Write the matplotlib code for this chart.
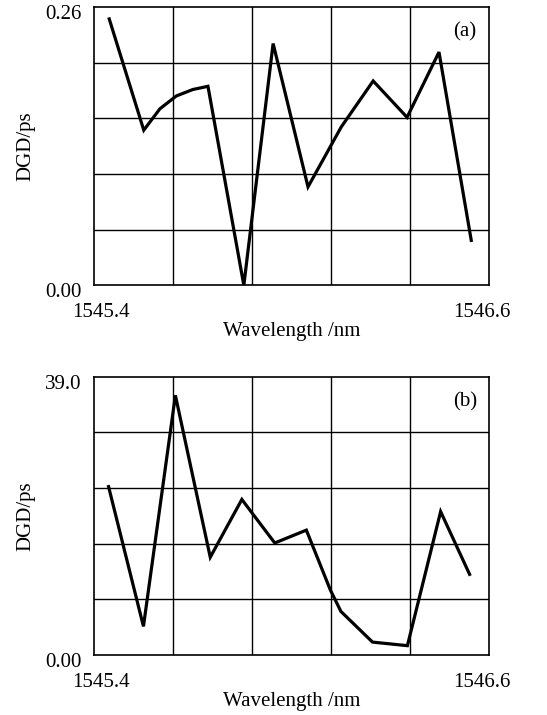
import numpy as np
import matplotlib.pyplot as plt
import matplotlib.transforms as mtransforms

plt.rcParams["font.family"] = ["Liberation Serif", "DejaVu Serif"]

# panel (a): DGD in ps vs wavelength
wl_a = [1545.446, 1545.551, 1545.600, 1545.650, 1545.700, 1545.746, 1545.855,
        1545.944, 1546.050, 1546.151, 1546.248, 1546.351, 1546.448, 1546.546]
dgd_a = [0.249, 0.145, 0.165, 0.177, 0.183, 0.186, 0.000,
         0.226, 0.092, 0.148, 0.191, 0.157, 0.218, 0.042]

# panel (b)
wl_b = [1545.444, 1545.550, 1545.647, 1545.753, 1545.849, 1545.949, 1546.045,
        1546.118, 1546.150, 1546.246, 1546.352, 1546.453, 1546.541]
dgd_b = [23.6, 4.0, 36.4, 13.7, 21.8, 15.7, 17.5,
         9.1, 6.1, 1.8, 1.3, 20.1, 11.3]

x_range = (1545.4, 1546.6)
x_labels = ["1545.4", "1546.6"]


def draw_panel(ax, x, y, ymax, ylabels, tag):
    ax.plot(x, y, color="black", linewidth=2.3, solid_joinstyle="miter", zorder=3)
    ax.set_xlim(*x_range)
    ax.set_ylim(0, ymax)

    # 5 x 5 grid
    for gx in np.linspace(x_range[0], x_range[1], 6)[1:-1]:
        ax.axvline(gx, color="black", linewidth=1.0, zorder=1)
    for gy in np.linspace(0, ymax, 6)[1:-1]:
        ax.axhline(gy, color="black", linewidth=1.0, zorder=1)

    ax.set_xticks(list(x_range))
    ax.set_xticklabels(x_labels)
    ax.set_yticks([0, ymax])
    ax.set_yticklabels(ylabels)
    ax.tick_params(length=0, labelsize=15)
    ax.tick_params(axis="x", pad=13)
    ax.tick_params(axis="y", pad=9)

    fig = ax.figure
    # nudge tick labels inward like the original
    offs = [mtransforms.ScaledTranslation(7 / 100, 0, fig.dpi_scale_trans),
            mtransforms.ScaledTranslation(-7 / 100, 0, fig.dpi_scale_trans)]
    for lab, off in zip(ax.get_xticklabels(), offs):
        lab.set_transform(lab.get_transform() + off)
    down = mtransforms.ScaledTranslation(0, -5 / 100, fig.dpi_scale_trans)
    for lab in ax.get_yticklabels():
        lab.set_transform(lab.get_transform() + down)

    for s in ax.spines.values():
        s.set_linewidth(1.2)

    ax.set_xlabel("Wavelength /nm", fontsize=15, labelpad=0)
    ax.set_ylabel("DGD/ps", fontsize=15, labelpad=7)
    ax.text(0.939, 0.91, tag, transform=ax.transAxes, fontsize=15,
            ha="center", va="center")


fig = plt.figure(figsize=(5.47, 7.15), dpi=100)
ax1 = fig.add_axes([0.172, 0.601, 0.722, 0.389])
ax2 = fig.add_axes([0.172, 0.084, 0.722, 0.389])

draw_panel(ax1, wl_a, dgd_a, 0.26, ["0.00", "0.26"], "(a)")
draw_panel(ax2, wl_b, dgd_b, 39.0, ["0.00", "39.0"], "(b)")

fig.savefig("out.png", dpi=100)
